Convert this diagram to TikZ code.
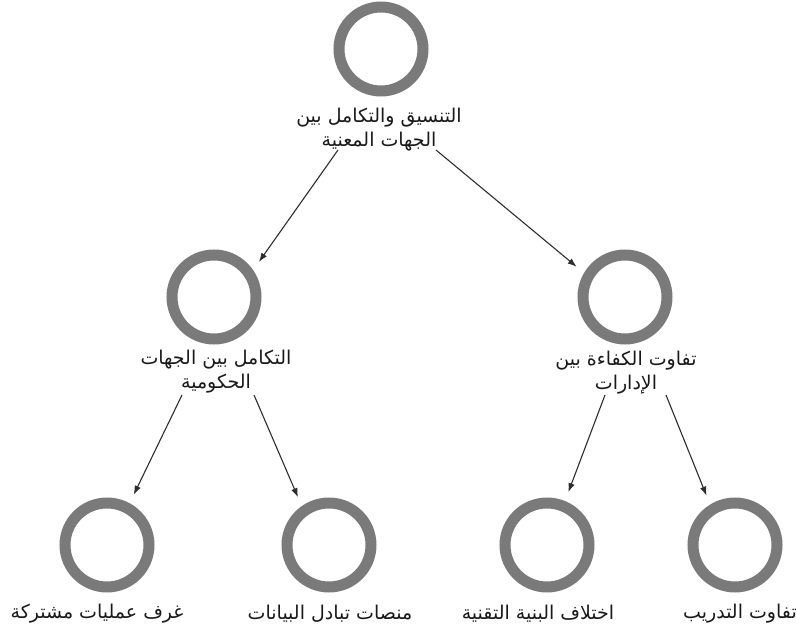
\documentclass[tikz,border=0pt]{standalone}
\usepackage{fontspec}
\newfontfamily\arabicfont[Script=Arabic]{DejaVu Sans}
\TeXXeTstate=1
\usepackage{tikz}
\usetikzlibrary{shapes,arrows,arrows.meta,positioning,calc}
\definecolor{ringgray}{RGB}{122,122,122}
\definecolor{linegray}{RGB}{45,45,45}

\begin{document}
\begin{tikzpicture}[x=1pt, y=-1pt, >={Latex[length=9pt,width=6.5pt]}]
\tikzset{
ring/.style     = {draw=ringgray, shape=circle, line width=11pt, minimum size=84pt, inner sep=0pt, outer sep=15pt},
caption/.style  = {font=\arabicfont\fontsize{19}{24}\selectfont, align=center, inner sep=0pt, text=black!90},
edge/.style     = {->, draw=linegray, line width=1.1pt},
}
    \useasboundingbox (0,0) rectangle (796,628);

    % Main nodes
    \node [ring]    (coord)     at (381,49)  {};
    \node [ring]    (govint)    at (214,297) {};
    \node [ring]    (compgap)   at (625,297) {};
    \node [ring]    (opsroom)   at (107,545) {};
    \node [ring]    (dataplat)  at (329,545) {};
    \node [ring]    (infradiff) at (547,545) {};
    \node [ring]    (traingap)  at (735,545) {};

    % Captions
    \node [caption] (coordtxt)     at (379,130) {\beginR التنسيق والتكامل بين\endR\\\beginR الجهات المعنية\endR};
    \node [caption] (govinttxt)    at (216,372) {\beginR التكامل بين الجهات\endR\\\beginR الحكومية\endR};
    \node [caption] (compgaptxt)   at (626,373) {\beginR تفاوت الكفاءة بين\endR\\\beginR الإدارات\endR};
    \node [caption] (opsroomtxt)   at (97,614)  {\beginR غرف عمليات مشتركة\endR};
    \node [caption] (dataplattxt)  at (330,614) {\beginR منصات تبادل البيانات\endR};
    \node [caption] (infradifftxt) at (538,614) {\beginR اختلاف البنية التقنية\endR};
    \node [caption] (traingaptxt)  at (740,614) {\beginR تفاوت التدريب\endR};

    % Main edges
    \draw [edge] ([shift={(-41,20)}]coordtxt.center)   -- (govint.38);
    \draw [edge] ([shift={(57,20)}]coordtxt.center)    -- (compgap.148);
    \draw [edge] ([shift={(-34,23)}]govinttxt.center)  -- (opsroom.62);
    \draw [edge] ([shift={(38,23)}]govinttxt.center)   -- (dataplat.123);
    \draw [edge] ([shift={(-21,22)}]compgaptxt.center) -- (infradiff.68);
    \draw [edge] ([shift={(40,22)}]compgaptxt.center)  -- (traingap.120);

\end{tikzpicture}
\end{document}
